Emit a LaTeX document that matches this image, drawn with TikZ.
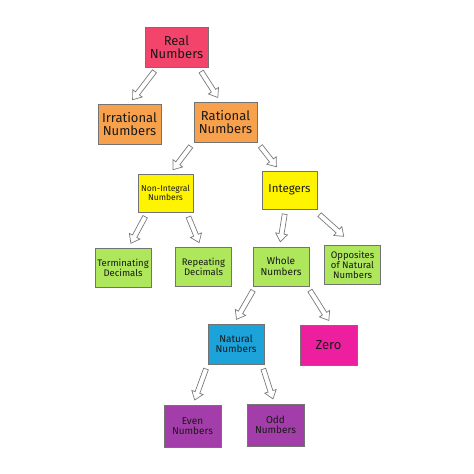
\documentclass[tikz,border=0pt]{standalone}
\usepackage{fontspec}
\setmainfont{Fira Sans}
\usetikzlibrary{calc}
\definecolor{realred}{HTML}{F3456B}
\definecolor{ratorange}{HTML}{F8A14C}
\definecolor{intyellow}{HTML}{FFF400}
\definecolor{leafgreen}{HTML}{AEE65C}
\definecolor{natblue}{HTML}{1BA3DA}
\definecolor{zeropink}{HTML}{EE1F9E}
\definecolor{evenpurple}{HTML}{A33DA9}
\definecolor{arrowgray}{HTML}{7A7A7A}
\tikzstyle{card} = [rectangle, draw=black!55, line width=0.6pt, text=black!90, align=center, inner sep=1pt, font=\fontsize{10}{10.5}\selectfont]
\tikzstyle{bigcard} = [card, minimum width=63pt, minimum height=40pt, font=\fontsize{13}{13.5}\selectfont]
\tikzstyle{smallcard} = [card, minimum width=56pt, minimum height=39pt]
\tikzstyle{hollow} = [draw=arrowgray, fill=white, line width=0.7pt, line join=miter,
  to path={let \p1=($(\tikztotarget)-(\tikztostart)$), \n1={atan2(\y1,\x1)}, \n2={veclen(\x1,\y1)} in
  {[shift={(\tikztostart)}, rotate=\n1]
  (5,-2.5) -- (\n2-13,-2.5) -- (\n2-13,-6) -- (\n2-5,0) -- (\n2-13,6) -- (\n2-13,2.5) -- (5,2.5) -- cycle}}]

\begin{document}
\begin{tikzpicture}[x=1pt,y=-1pt]
\useasboundingbox (0,0) rectangle (474,474);
\node[bigcard, fill=realred] (real) at (176.5,47) {Real\\Numbers};
\node[bigcard, fill=ratorange] (irr) at (129.5,124) {Irrational\\Numbers};
\node[bigcard, fill=ratorange] (rat) at (225.5,122) {Rational\\Numbers};
\node[smallcard, fill=intyellow, minimum width=55pt, minimum height=38pt, font=\fontsize{8.5}{9}\selectfont] (nonint) at (165.5,193) {Non-Integral\\Numbers};
\node[smallcard, fill=intyellow, minimum width=55pt, minimum height=38pt, font=\fontsize{11.5}{12}\selectfont] (int) at (289.5,190) {Integers};
\node[smallcard, fill=leafgreen, font=\fontsize{9.5}{10}\selectfont] (term) at (123,267.5) {Terminating\\Decimals};
\node[smallcard, fill=leafgreen, font=\fontsize{9.5}{10}\selectfont] (rep) at (203.5,267) {Repeating\\Decimals};
\node[smallcard, fill=leafgreen] (whole) at (281,266.5) {Whole\\Numbers};
\node[smallcard, fill=leafgreen, font=\fontsize{9.5}{10}\selectfont] (opp) at (352.5,264.5) {Opposites\\of Natural\\Numbers};
\node[smallcard, fill=natblue, minimum height=40pt] (nat) at (236,344) {Natural\\Numbers};
\node[smallcard, fill=zeropink, minimum width=57pt, minimum height=40pt, font=\fontsize{13}{13.5}\selectfont] (zero) at (328.5,345) {Zero};
\node[smallcard, fill=evenpurple, minimum width=57pt, minimum height=42pt] (even) at (192.5,426) {Even\\Numbers};
\node[smallcard, fill=evenpurple, minimum width=57pt, minimum height=42pt] (odd) at (275.5,425) {Odd\\Numbers};
% block arrows
\draw[hollow] ([xshift=-19pt]real.south) to (irr.north);
\draw[hollow] ([xshift=22pt]real.south) to ([xshift=-5pt]rat.north);
\draw[hollow] (rat.south west) to ([xshift=4.5pt]nonint.north);
\draw[hollow] (rat.south east) to ([xshift=-10pt]int.north);
\draw[hollow] ([xshift=-18pt]nonint.south) to ([xshift=5.5pt]term.north);
\draw[hollow] ([xshift=21pt]nonint.south) to ([xshift=-2.5pt]rep.north);
\draw[hollow] ([xshift=-4pt]int.south) to ([xshift=-1.5pt]whole.north);
\draw[hollow] ([xshift=-1.5pt,yshift=-2pt]int.south east) to ([xshift=-5pt,yshift=5pt]opp.north);
\draw[hollow] ([xshift=-25.5pt]whole.south) to ([xshift=-2pt]nat.north);
\draw[hollow] ([xshift=-2pt]whole.south east) to ([xshift=3pt]zero.north);
\draw[hollow] (nat.south west) to ([xshift=0.5pt]even.north);
\draw[hollow] ([xshift=-2.5pt]nat.south east) to ([xshift=-1pt]odd.north);
\end{tikzpicture}
\end{document}
